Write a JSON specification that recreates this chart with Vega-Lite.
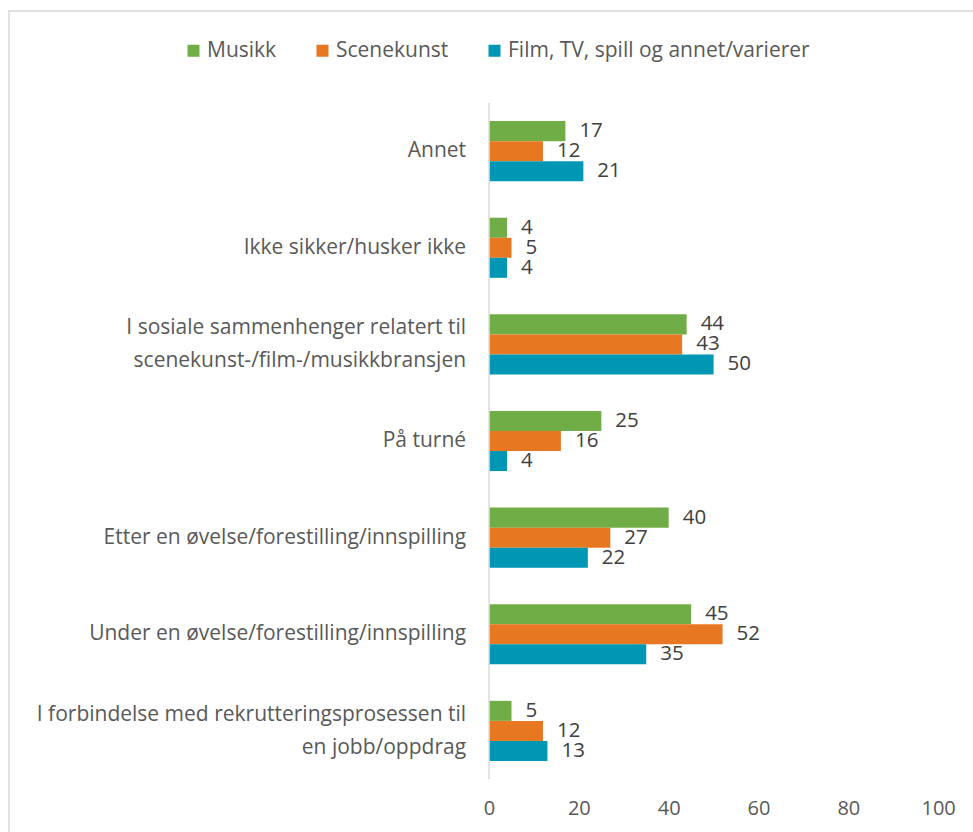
{
  "$schema": "https://vega.github.io/schema/vega-lite/v6.json",
  "width": 970,
  "height": 830,
  "autosize": "none",
  "padding": {"left": 9, "top": 11, "right": 0, "bottom": 0},
  "config": {
    "view": {"stroke": "#d9d9d9", "strokeWidth": 1.5},
    "font": "Open Sans"
  },
  "data": {
    "values": [
      {"cat": "Annet", "s": "Musikk", "v": 17},
      {"cat": "Annet", "s": "Scenekunst", "v": 12},
      {"cat": "Annet", "s": "Film, TV, spill og annet/varierer", "v": 21},
      {"cat": "Ikke sikker/husker ikke", "s": "Musikk", "v": 4},
      {"cat": "Ikke sikker/husker ikke", "s": "Scenekunst", "v": 5},
      {"cat": "Ikke sikker/husker ikke", "s": "Film, TV, spill og annet/varierer", "v": 4},
      {"cat": "I sosiale sammenhenger relatert til\nscenekunst-/film-/musikkbransjen", "s": "Musikk", "v": 44},
      {"cat": "I sosiale sammenhenger relatert til\nscenekunst-/film-/musikkbransjen", "s": "Scenekunst", "v": 43},
      {"cat": "I sosiale sammenhenger relatert til\nscenekunst-/film-/musikkbransjen", "s": "Film, TV, spill og annet/varierer", "v": 50},
      {"cat": "På turné", "s": "Musikk", "v": 25},
      {"cat": "På turné", "s": "Scenekunst", "v": 16},
      {"cat": "På turné", "s": "Film, TV, spill og annet/varierer", "v": 4},
      {"cat": "Etter en øvelse/forestilling/innspilling", "s": "Musikk", "v": 40},
      {"cat": "Etter en øvelse/forestilling/innspilling", "s": "Scenekunst", "v": 27},
      {"cat": "Etter en øvelse/forestilling/innspilling", "s": "Film, TV, spill og annet/varierer", "v": 22},
      {"cat": "Under en øvelse/forestilling/innspilling", "s": "Musikk", "v": 45},
      {"cat": "Under en øvelse/forestilling/innspilling", "s": "Scenekunst", "v": 52},
      {"cat": "Under en øvelse/forestilling/innspilling", "s": "Film, TV, spill og annet/varierer", "v": 35},
      {"cat": "I forbindelse med rekrutteringsprosessen til\nen jobb/oppdrag", "s": "Musikk", "v": 5},
      {"cat": "I forbindelse med rekrutteringsprosessen til\nen jobb/oppdrag", "s": "Scenekunst", "v": 12},
      {"cat": "I forbindelse med rekrutteringsprosessen til\nen jobb/oppdrag", "s": "Film, TV, spill og annet/varierer", "v": 13}
    ]
  },
  "layer": [
    {
      "mark": {"type": "bar"},
      "encoding": {
        "y": {
          "field": "cat", "type": "nominal",
          "sort": ["Annet", "Ikke sikker/husker ikke", "I sosiale sammenhenger relatert til\nscenekunst-/film-/musikkbransjen", "På turné", "Etter en øvelse/forestilling/innspilling", "Under en øvelse/forestilling/innspilling", "I forbindelse med rekrutteringsprosessen til\nen jobb/oppdrag"],
          "scale": {"paddingInner": 0.378, "paddingOuter": 0.984, "align": 0.579},
          "axis": null
        },
        "yOffset": {
          "field": "s", "type": "nominal",
          "sort": ["Musikk", "Scenekunst", "Film, TV, spill og annet/varierer"],
          "scale": {"paddingInner": 0, "paddingOuter": 0}
        },
        "x": {
          "field": "v", "type": "quantitative",
          "scale": {"domain": [-106.9, 109.1], "nice": false, "zero": false},
          "axis": {
            "values": [0, 20, 40, 60, 80, 100],
            "orient": "bottom",
            "offset": -45,
            "domain": false,
            "ticks": false,
            "grid": false,
            "title": null,
            "labelFontSize": 20,
            "labelColor": "#595959",
            "labelPadding": 2
          }
        },
        "x2": {"datum": 0},
        "color": {
          "field": "s", "type": "nominal",
          "scale": {
            "domain": ["Musikk", "Scenekunst", "Film, TV, spill og annet/varierer"],
            "range": ["#70AD47", "#E87722", "#0097B5"]
          },
          "legend": {
            "orient": "none",
            "legendX": 174,
            "legendY": 29,
            "direction": "horizontal",
            "title": null,
            "symbolType": "square",
            "symbolSize": 144,
            "symbolStrokeWidth": 0,
            "labelFontSize": 21,
            "labelColor": "#595959",
            "labelLimit": 600,
            "columnPadding": 35,
            "labelOffset": 3,
            "padding": 0
          }
        }
      }
    },
    {
      "mark": {"type": "text", "align": "left", "baseline": "middle", "dx": 14, "fontSize": 20.5, "color": "#404040"},
      "encoding": {
        "y": {
          "field": "cat", "type": "nominal",
          "sort": ["Annet", "Ikke sikker/husker ikke", "I sosiale sammenhenger relatert til\nscenekunst-/film-/musikkbransjen", "På turné", "Etter en øvelse/forestilling/innspilling", "Under en øvelse/forestilling/innspilling", "I forbindelse med rekrutteringsprosessen til\nen jobb/oppdrag"]
        },
        "yOffset": {
          "field": "s", "type": "nominal",
          "sort": ["Musikk", "Scenekunst", "Film, TV, spill og annet/varierer"]
        },
        "x": {"field": "v", "type": "quantitative"},
        "text": {"field": "v", "type": "quantitative"}
      }
    },
    {
      "transform": [
        {"filter": "datum.s == 'Musikk'"},
        {"filter": "indexof(datum.cat, '\\n') < 0"}
      ],
      "mark": {"type": "text", "align": "right", "baseline": "middle", "dx": -23, "fontSize": 21, "color": "#595959"},
      "encoding": {
        "y": {
          "field": "cat", "type": "nominal",
          "sort": ["Annet", "Ikke sikker/husker ikke", "I sosiale sammenhenger relatert til\nscenekunst-/film-/musikkbransjen", "På turné", "Etter en øvelse/forestilling/innspilling", "Under en øvelse/forestilling/innspilling", "I forbindelse med rekrutteringsprosessen til\nen jobb/oppdrag"]
        },
        "x": {"datum": 0, "type": "quantitative"},
        "text": {"field": "cat", "type": "nominal"}
      }
    },
    {
      "transform": [
        {"filter": "datum.s == 'Musikk'"},
        {"filter": "indexof(datum.cat, '\\n') >= 0"}
      ],
      "mark": {"type": "text", "align": "right", "baseline": "middle", "dx": -23, "dy": -16, "fontSize": 21, "color": "#595959", "lineBreak": "\n", "lineHeight": 33},
      "encoding": {
        "y": {
          "field": "cat", "type": "nominal",
          "sort": ["Annet", "Ikke sikker/husker ikke", "I sosiale sammenhenger relatert til\nscenekunst-/film-/musikkbransjen", "På turné", "Etter en øvelse/forestilling/innspilling", "Under en øvelse/forestilling/innspilling", "I forbindelse med rekrutteringsprosessen til\nen jobb/oppdrag"]
        },
        "x": {"datum": 0, "type": "quantitative"},
        "text": {"field": "cat", "type": "nominal"}
      }
    },
    {
      "transform": [{"filter": "datum.s == 'Musikk'"}],
      "mark": {"type": "rule", "color": "#d9d9d9", "strokeWidth": 1.5},
      "encoding": {
        "y": {
          "field": "cat", "type": "nominal",
          "sort": ["Annet", "Ikke sikker/husker ikke", "I sosiale sammenhenger relatert til\nscenekunst-/film-/musikkbransjen", "På turné", "Etter en øvelse/forestilling/innspilling", "Under en øvelse/forestilling/innspilling", "I forbindelse med rekrutteringsprosessen til\nen jobb/oppdrag"],
          "bandPosition": -0.304
        },
        "y2": {"field": "cat", "bandPosition": 1.304},
        "x": {"datum": 0, "type": "quantitative"}
      }
    }
  ]
}
